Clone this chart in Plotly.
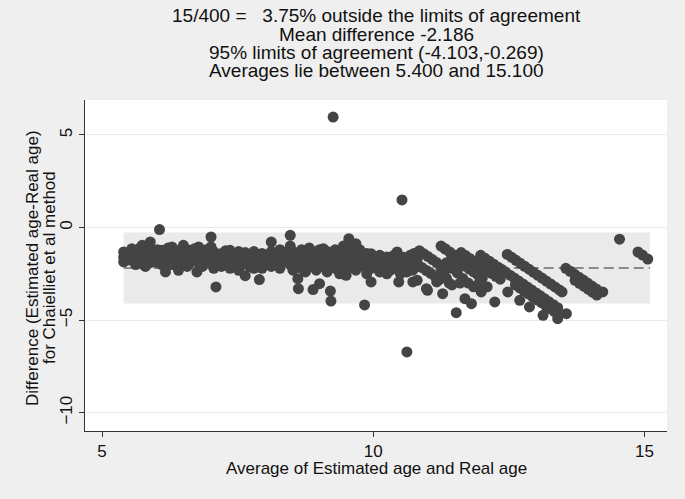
import plotly.graph_objects as go

# ---------------- data ----------------
# Average of estimated and real age (x) and difference (y), grouped by region
left_pts = [
    (5.40, -1.32), (5.40, -1.60), (5.40, -1.86), (5.48, -1.50), (5.48, -1.75),
    (5.55, -1.14), (5.55, -1.40), (5.55, -1.77), (5.62, -1.30), (5.62, -1.60), (5.62, -2.00),
    (5.70, -1.10), (5.70, -1.45), (5.70, -1.80), (5.74, -0.96), (5.74, -1.95),
    (5.80, -1.20), (5.80, -1.60), (5.80, -2.10), (5.89, -0.78), (5.89, -1.10), (5.89, -1.40),
    (5.89, -1.90), (5.95, -1.30), (5.95, -1.70), (6.02, -1.20), (6.02, -1.55), (6.02, -1.90),
    (6.06, -0.11), (6.10, -1.23), (6.10, -1.60), (6.10, -2.00), (6.17, -1.40), (6.17, -2.40),
    (6.22, -1.10), (6.22, -1.80), (6.29, -1.05), (6.29, -1.50), (6.29, -2.00), (6.35, -1.30),
    (6.35, -1.70), (6.41, -1.60), (6.41, -2.31), (6.45, -1.20), (6.45, -1.90), (6.50, -0.96),
    (6.50, -1.40), (6.50, -1.75), (6.57, -1.20), (6.57, -1.60), (6.57, -2.10), (6.63, -1.40),
    (6.63, -1.90), (6.70, -1.15), (6.70, -1.70), (6.75, -1.50), (6.75, -2.40), (6.78, -1.05),
    (6.78, -1.90), (6.85, -1.30), (6.85, -1.70), (6.85, -2.10), (6.92, -1.20), (6.92, -1.60),
    (7.01, -0.51), (7.01, -1.05), (7.01, -1.45), (7.01, -1.90), (7.06, -1.30), (7.06, -2.20),
    (7.10, -3.21), (7.15, -1.60), (7.15, -2.00),
]
mid_pts = [
    (7.20, -1.40), (7.20, -1.80), (7.20, -2.10), (7.28, -1.25), (7.28, -1.60), (7.28, -2.00),
    (7.36, -1.23), (7.36, -1.70), (7.36, -2.20), (7.44, -1.40), (7.44, -1.90), (7.52, -1.30),
    (7.52, -1.70), (7.52, -2.31), (7.58, -1.50), (7.58, -2.00), (7.64, -1.35), (7.64, -1.80),
    (7.64, -2.60), (7.72, -1.50), (7.72, -2.10), (7.80, -1.30), (7.80, -1.70), (7.80, -2.20),
    (7.86, -1.55), (7.86, -2.00), (7.90, -2.81), (7.95, -1.40), (7.95, -1.80), (7.95, -2.20),
    (8.02, -1.60), (8.02, -2.00), (8.12, -0.78), (8.12, -1.30), (8.12, -1.70), (8.12, -2.10),
    (8.20, -1.50), (8.20, -1.90), (8.28, -1.20), (8.28, -1.70), (8.28, -2.20), (8.36, -1.40),
    (8.36, -1.80), (8.47, -0.42), (8.47, -1.00), (8.47, -1.50), (8.47, -2.00), (8.52, -1.30),
    (8.52, -1.70), (8.52, -2.30), (8.61, -1.40), (8.61, -1.90), (8.61, -2.76), (8.62, -3.30),
    (8.68, -1.20), (8.68, -1.60), (8.68, -2.20), (8.75, -1.40), (8.75, -1.90), (8.75, -2.40),
    (8.82, -1.10), (8.82, -1.60), (8.82, -2.10), (8.89, -1.30), (8.89, -1.80), (8.89, -3.35),
    (8.95, -1.50), (8.95, -2.30), (9.01, -1.20), (9.01, -1.70), (9.01, -2.10), (9.01, -3.03),
    (9.08, -1.14), (9.08, -1.50), (9.08, -1.90), (9.15, -1.30), (9.15, -1.70), (9.15, -2.40),
    (9.21, -1.50), (9.21, -2.00), (9.21, -3.43), (9.22, -3.97), (9.26, 5.97), (9.30, -1.20),
    (9.30, -1.60), (9.30, -2.20), (9.38, -1.40), (9.38, -1.90), (9.38, -2.50), (9.45, -1.00),
    (9.45, -1.50), (9.45, -2.10), (9.50, -1.30), (9.50, -1.80), (9.50, -2.58), (9.55, -0.60),
    (9.55, -1.10), (9.55, -1.60), (9.55, -2.20), (9.62, -1.30), (9.62, -1.90), (9.68, -0.87),
    (9.68, -1.50), (9.68, -2.30), (9.75, -1.20), (9.75, -1.80), (9.82, -1.50), (9.82, -2.10),
    (9.84, -4.18), (9.88, -1.40), (9.88, -1.90), (9.88, -2.50), (9.96, -1.41), (9.96, -1.80),
    (9.96, -2.20), (9.96, -2.94), (10.05, -1.60), (10.05, -2.10), (10.12, -1.50), (10.12, -1.90),
    (10.12, -2.40), (10.20, -1.70), (10.20, -2.20), (10.25, -1.59), (10.25, -2.00), (10.25, -2.50),
    (10.32, -1.80), (10.32, -2.30), (10.38, -1.50), (10.38, -2.00), (10.44, -1.32), (10.44, -1.70),
    (10.44, -2.20), (10.47, -2.94), (10.53, 1.49), (10.50, -1.90), (10.50, -2.50), (10.55, -1.60),
    (10.55, -2.10), (10.62, -6.72), (10.62, -1.80), (10.62, -2.40), (10.68, -1.50), (10.68, -2.00),
    (10.73, -2.94), (10.73, -2.30), (10.75, -1.95), (10.75, -1.40), (10.81, -2.85), (10.81, -1.70),
]
streak_pts = [
    (10.85, -1.25), (10.93, -1.41), (11.01, -1.57), (11.09, -1.73), (11.17, -1.89), (11.25, -2.05),
    (10.82, -2.00), (10.90, -2.16), (10.98, -2.32), (11.06, -2.48), (11.14, -2.64), (11.22, -2.80),
    (11.25, -1.00), (11.33, -1.16), (11.41, -1.32), (11.49, -1.48), (11.57, -1.64), (11.65, -1.80),
    (11.73, -1.96), (11.81, -2.12),
    (11.45, -1.60), (11.53, -1.76), (11.61, -1.92), (11.69, -2.08), (11.77, -2.24), (11.85, -2.40),
    (11.93, -2.56), (12.01, -2.72),
    (11.62, -1.35), (11.70, -1.51), (11.78, -1.67), (11.86, -1.83), (11.94, -1.99), (12.02, -2.15),
    (12.10, -2.31), (12.18, -2.47), (12.26, -2.63), (12.34, -2.79),
    (11.98, -1.50), (12.06, -1.66), (12.14, -1.82), (12.22, -1.98), (12.30, -2.14), (12.38, -2.30),
    (11.25, -2.25), (11.30, -2.50), (11.35, -2.75), (11.40, -3.00),
    (11.35, -1.90), (11.45, -2.20), (11.55, -2.45), (11.65, -2.75), (11.75, -3.00), (11.85, -3.20),
    (11.45, -3.10), (11.60, -3.00), (11.95, -3.00), (12.10, -3.20),
    (12.47, -1.45), (12.55, -1.61), (12.63, -1.77), (12.71, -1.93), (12.79, -2.09), (12.87, -2.25),
    (12.95, -2.41), (13.03, -2.57), (13.11, -2.73), (13.19, -2.89), (13.27, -3.05), (13.35, -3.21),
    (13.43, -3.37), (13.48, -3.48),
    (12.36, -2.25), (12.44, -2.41), (12.52, -2.57), (12.60, -2.73), (12.68, -2.89), (12.76, -3.05),
    (12.84, -3.21), (12.92, -3.37), (13.00, -3.53), (13.08, -3.69), (13.16, -3.85), (13.24, -4.01),
    (13.32, -4.17), (13.40, -4.33),
    (12.62, -3.10), (12.70, -3.26), (12.78, -3.42), (12.86, -3.58), (12.94, -3.74), (13.02, -3.90),
    (13.10, -4.06), (13.18, -4.22), (13.26, -4.38), (13.34, -4.54), (13.42, -4.70),
    (13.55, -2.20), (13.63, -2.36), (13.71, -2.52), (13.79, -2.68), (13.87, -2.84), (13.95, -3.00),
    (14.03, -3.16), (14.11, -3.32),
    (13.72, -2.85), (13.80, -3.01), (13.88, -3.17), (13.96, -3.33), (14.04, -3.49), (14.12, -3.65),
]
scatter_pts = [
    (11.00, -3.39), (11.17, -2.94), (11.28, -3.57), (11.53, -4.60), (11.69, -3.84), (11.81, -4.11),
    (11.99, -3.48), (12.24, -4.02), (12.48, -3.48), (12.70, -3.93), (12.88, -4.29), (13.13, -4.74),
    (13.40, -4.92), (13.56, -4.65), (14.23, -3.48), (10.98, -3.30), (11.32, -1.14),
    (14.54, -0.63), (14.88, -1.32), (14.96, -1.48), (15.06, -1.70),
]

mean_diff = -2.186
loa_low = -4.103
loa_high = -0.269
avg_min = 5.400
avg_max = 15.100

title_lines = [
    "15/400 =\u00a0\u00a0\u00a03.75% outside the limits of agreement",
    "Mean difference -2.186",
    "95% limits of agreement (-4.103,-0.269)",
    "Averages lie between 5.400 and 15.100",
]
x_title = "Average of Estimated age and Real age"
y_title_lines = ["Difference (Estimated age-Real age)", "for Chaielliet et al method"]
x_ticks = [5, 10, 15]
y_ticks = [-10, -5, 0, 5]

# ---------------- figure ----------------
all_pts = left_pts + mid_pts + streak_pts + scatter_pts
xs = [p[0] for p in all_pts]
ys = [p[1] for p in all_pts]

W, H = 685, 499
L, R, T, B = 85, 18, 100, 68
pw, ph = W - L - R, H - T - B

def px_to_paper_x(px):
    return (px - L) / pw

def py_to_paper_y(py):
    return (H - B - py) / ph

FONT = "Liberation Sans, Arial, sans-serif"
INK = "#111111"

fig = go.Figure()
fig.add_trace(go.Scatter(
    x=xs, y=ys, mode="markers",
    marker=dict(size=11, color="#444444", line=dict(width=0)),
    hoverinfo="x+y", showlegend=False,
))

fig.add_shape(type="rect", xref="x", yref="y", x0=avg_min, x1=avg_max,
              y0=loa_low, y1=loa_high, fillcolor="#EAEAEA", line=dict(width=0),
              layer="below")
fig.add_shape(type="line", xref="x", yref="y", x0=avg_min, x1=avg_max,
              y0=mean_diff, y1=mean_diff,
              line=dict(color="#8A8A8A", width=2, dash="10px,5px"), layer="below")

title_centers = [15, 34, 52.5, 71]
for txt, cy in zip(title_lines, title_centers):
    fig.add_annotation(text=txt, xref="paper", yref="paper", x=0.5,
                       y=py_to_paper_y(cy), xanchor="center", yanchor="middle",
                       showarrow=False, font=dict(family=FONT, size=19, color=INK))

fig.add_annotation(text=x_title, xref="paper", yref="paper", x=px_to_paper_x(376),
                   y=py_to_paper_y(468), xanchor="center", yanchor="middle",
                   showarrow=False, font=dict(family=FONT, size=17, color=INK))
for txt, cx in zip(y_title_lines, [32, 49]):
    fig.add_annotation(text=txt, xref="paper", yref="paper", x=px_to_paper_x(cx),
                       y=py_to_paper_y(268), xanchor="center", yanchor="middle",
                       textangle=-90, showarrow=False,
                       font=dict(family=FONT, size=17, color=INK))

fig.update_layout(
    width=W, height=H,
    margin=dict(l=L, r=R, t=T, b=B, pad=0, autoexpand=False),
    paper_bgcolor="#EFEFEF", plot_bgcolor="#FFFFFF",
    font=dict(family=FONT, size=17, color=INK),
    showlegend=False,
)
fig.update_xaxes(
    range=[4.6866, 15.4147], tickvals=x_ticks, ticks="outside", ticklen=5,
    tickcolor="#333333", showline=True, linecolor="#333333", linewidth=1,
    showgrid=False, zeroline=False, tickfont=dict(size=17, color=INK),
    ticklabelstandoff=0, automargin=False,
)
fig.update_yaxes(
    range=[-10.99, 6.89], tickvals=y_ticks, ticks="outside", ticklen=5,
    tickcolor="#333333", showline=True, linecolor="#333333", linewidth=1,
    showgrid=True, gridcolor="#EAEAEA", gridwidth=1, zeroline=False,
    tickangle=-90, tickfont=dict(size=17, color=INK), ticklabelstandoff=0,
    automargin=False,
)

fig.write_html(
    "out.html",
    config={"displayModeBar": False},
    post_script="document.body.style.margin='0px';document.body.style.padding='0px';"
                "document.body.style.overflow='hidden';",
)
